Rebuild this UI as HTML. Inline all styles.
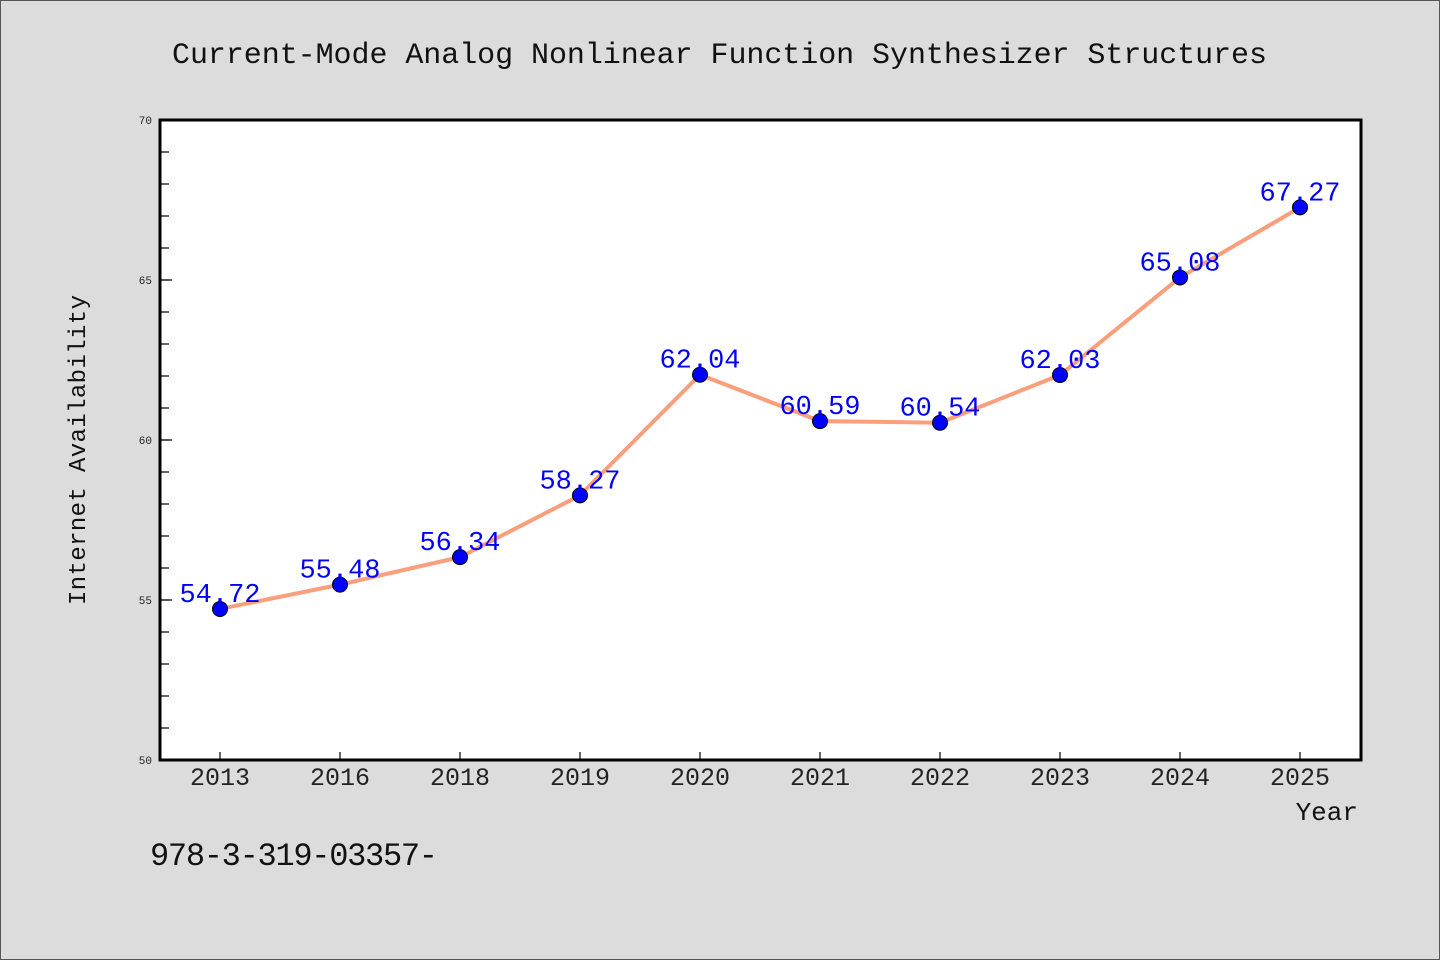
<!DOCTYPE html>
<html><head><meta charset="utf-8"><style>
html,body{margin:0;padding:0;background:#dcdcdc}
svg{display:block}
text{font-family:"WenQuanYi Zen Hei","Liberation Mono",monospace}
</style></head><body>
<svg id="chart" width="1440" height="960" xmlns="http://www.w3.org/2000/svg">
<rect x="0.5" y="0.5" width="1439" height="959" fill="#dcdcdc" stroke="#555"/>
<text x="172" y="63" font-size="30" textLength="1095" fill="#111">Current-Mode Analog Nonlinear Function Synthesizer Structures</text>
<rect x="160" y="120" width="1201" height="640" fill="#fff"/>
<g id="axes"></g>
<g id="marks"></g>
<rect x="160" y="120" width="1201" height="640" fill="none" stroke="#000" stroke-width="3"/>
<text transform="translate(85,450) rotate(-90)" text-anchor="middle" font-size="24" textLength="310" fill="#111">Internet Availability</text>
<text x="1358" y="820" text-anchor="end" font-size="26" fill="#111">Year</text>
<text x="150" y="865" font-size="32" textLength="288" fill="#111">978-3-319-03357-</text>
</svg>
<script>
const categories=["2013","2016","2018","2019","2020","2021","2022","2023","2024","2025"];
const values=[54.72,55.48,56.34,58.27,62.04,60.59,60.54,62.03,65.08,67.27];
const yTicks=[50,55,60,65,70];
const yMin=50,yMax=70;
const NS="http://www.w3.org/2000/svg";
function xs(i){return 220+i*120;}
function ys(v){return 760-(v-yMin)/(yMax-yMin)*640;}
function mk(tag,attrs,parent,txt){const e=document.createElementNS(NS,tag);for(const k in attrs)e.setAttribute(k,attrs[k]);if(txt!=null)e.textContent=txt;parent.appendChild(e);return e;}
const axes=document.getElementById('axes'),marks=document.getElementById('marks');
for(let v=yMin+1;v<yMax;v++){
  const t=mk('line',{x1:160,x2:169,y1:ys(v),y2:ys(v),stroke:'#000','stroke-width':1.2},axes);
  
  
}
yTicks.forEach(v=>{
  const t=mk('line',{x1:160,x2:172,y1:ys(v),y2:ys(v),stroke:'#000','stroke-width':1.2},axes);
  
  
  const l=mk('text',{x:152,y:ys(v)+4,'text-anchor':'end','font-size':11,fill:'#222'},axes,String(v));
  
  
});
categories.forEach((c,i)=>{
  const t=mk('line',{x1:xs(i),x2:xs(i),y1:760,y2:752,stroke:'#000','stroke-width':1.2},axes);
  
  
  const l=mk('text',{x:xs(i),y:785,'text-anchor':'middle','font-size':25,fill:'#222'},axes,c);
  
  
});
const pts=values.map((v,i)=>xs(i)+','+ys(v)).join(' ');
const line=mk('polyline',{points:pts,fill:'none',stroke:'#fa9e7b','stroke-width':4,'stroke-linejoin':'round'},marks);


values.forEach((v,i)=>{
  const c=mk('circle',{cx:xs(i),cy:ys(v),r:7.5,fill:'#0000ff',stroke:'#000','stroke-width':1},marks);
  
  
});
values.forEach((v,i)=>{
  const l=mk('text',{x:xs(i),y:ys(v)-7,'text-anchor':'middle','font-size':27,fill:'#0000ff','font-family':'"Liberation Sans",sans-serif'},marks,v.toFixed(2));
  
  
});
</script>
</body></html>
